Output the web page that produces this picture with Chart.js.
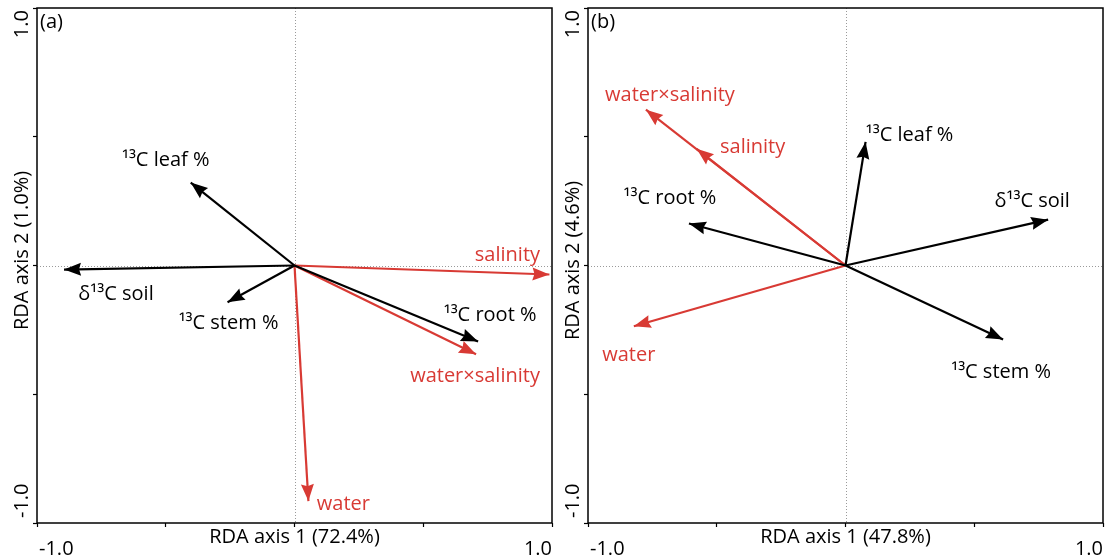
<!DOCTYPE html>
<html>
<head>
<meta charset="utf-8">
<script src="https://cdn.jsdelivr.net/npm/chart.js@4.4.0/dist/chart.umd.min.js"></script>
<style>
  html, body { margin: 0; padding: 0; background: #fff; }
  #wrap { position: relative; width: 1108px; height: 560px; }
  .panel { position: absolute; top: 0; width: 554px; height: 560px; }
</style>
</head>
<body>
<div id="wrap">
  <div class="panel" style="left:0"><canvas id="chartA" width="554" height="560"></canvas></div>
  <div class="panel" style="left:554px"><canvas id="chartB" width="554" height="560"></canvas></div>
</div>
<script>
// panel (a)
const namesA = ["\u00b9\u00b3C leaf %", "\u03b4\u00b9\u00b3C soil", "\u00b9\u00b3C stem %", "\u00b9\u00b3C root %", "salinity", "water\u00d7salinity", "water"];
const xA = [-0.403, -0.895, -0.26, 0.713, 0.99, 0.705, 0.054];
const yA = [0.322, -0.016, -0.143, -0.295, -0.035, -0.345, -0.915];
const isEnvA = [false, false, false, false, true, true, true];

// panel (b)
const namesB = ["\u00b9\u00b3C leaf %", "\u03b4\u00b9\u00b3C soil", "\u00b9\u00b3C stem %", "\u00b9\u00b3C root %", "salinity", "water\u00d7salinity", "water"];
const xB = [0.078, 0.787, 0.612, -0.608, -0.578, -0.775, -0.822];
const yB = [0.48, 0.178, -0.287, 0.163, 0.453, 0.605, -0.236];
const isEnvB = [false, false, false, false, true, true, true];

const axisTitles = {
  a: ["RDA axis 1 (72.4%)", "RDA axis 2 (1.0%)"],
  b: ["RDA axis 1 (47.8%)", "RDA axis 2 (4.6%)"]
};
const tickLabels = ["-1.0", "1.0"];

// label offsets from arrow tip, in px (layout only)
const offA = [[-25, -22], [52, 25], [1, 21], [12, -26], [-42, -19], [-1, 22], [35, 3]];
const offB = [[44, -7], [-16, -18], [-2, 33], [-19, -25], [56, -2], [24, -14], [-5, 29]];

const FONT = "'Open Sans', Lato, sans-serif";
const FSIZE = 20;
const RED = "#d83a34";
const BLACK = "#000";

const biplot = {
  id: "biplot",
  beforeDatasetsDraw(chart) {
    const { ctx, chartArea: a, scales: { x, y } } = chart;
    ctx.save();
    ctx.strokeStyle = "#9a9a9a";
    ctx.lineWidth = 1;
    ctx.setLineDash([1, 2]);
    const x0 = Math.round(x.getPixelForValue(0)) + 0.5;
    const y0 = Math.round(y.getPixelForValue(0)) + 0.5;
    ctx.beginPath();
    ctx.moveTo(x0, a.top); ctx.lineTo(x0, a.bottom);
    ctx.moveTo(a.left, y0); ctx.lineTo(a.right, y0);
    ctx.stroke();
    ctx.restore();
  },
  afterDatasetsDraw(chart) {
    const { ctx } = chart;
    const o = chart.options.plugins.biplot;
    ctx.save();
    chart.data.datasets.forEach((ds, i) => {
      const pts = chart.getDatasetMeta(i).data;
      const p0 = pts[0], p1 = pts[1];
      const ang = Math.atan2(p1.y - p0.y, p1.x - p0.x);
      const L = 17, W = 6.5;
      const c = Math.cos(ang), s = Math.sin(ang);
      const bx = p1.x - L * c, by = p1.y - L * s;
      ctx.fillStyle = ds.borderColor;
      ctx.beginPath();
      ctx.moveTo(p1.x, p1.y);
      ctx.lineTo(bx + W * s, by - W * c);
      ctx.lineTo(bx + 2 * c, by + 2 * s);
      ctx.lineTo(bx - W * s, by + W * c);
      ctx.closePath();
      ctx.fill();
      // label
      const off = o.offsets[i];
      ctx.font = FSIZE + "px " + FONT;
      ctx.textAlign = "center";
      ctx.textBaseline = "middle";
      ctx.fillText(ds.label, p1.x + off[0], p1.y + off[1]);
    });
    ctx.restore();
  },
  afterDraw(chart) {
    const { ctx, chartArea: a } = chart;
    const o = chart.options.plugins.biplot;
    ctx.save();
    ctx.strokeStyle = "#000";
    ctx.lineWidth = 1.5;
    ctx.strokeRect(a.left, a.top, a.right - a.left, a.bottom - a.top);
    ctx.fillStyle = "#000";
    ctx.font = FSIZE + "px " + FONT;
    ctx.textBaseline = "middle";
    // x title & ticks
    ctx.textAlign = "center";
    ctx.fillText(o.titles[0], (a.left + a.right) / 2, a.bottom + 14);
    ctx.textAlign = "left";
    ctx.fillText(tickLabels[0], a.left + 2, a.bottom + 26);
    ctx.textAlign = "right";
    ctx.fillText(tickLabels[1], a.right, a.bottom + 26);
    // panel tag
    ctx.textAlign = "left";
    ctx.fillText(o.tag, a.left + 3, a.top + 14);
    // y title & ticks (rotated)
    ctx.save();
    ctx.translate(a.left - 15, (a.top + a.bottom) / 2 + o.yTitleShift);
    ctx.rotate(-Math.PI / 2);
    ctx.textAlign = "center";
    ctx.fillText(o.titles[1], 0, 0);
    ctx.restore();
    ctx.save();
    ctx.translate(a.left - 15, a.top + 2);
    ctx.rotate(-Math.PI / 2);
    ctx.textAlign = "right";
    ctx.fillText(tickLabels[1], 0, 0);
    ctx.restore();
    ctx.save();
    ctx.translate(a.left - 15, a.bottom - 5);
    ctx.rotate(-Math.PI / 2);
    ctx.textAlign = "left";
    ctx.fillText(tickLabels[0], 0, 0);
    ctx.restore();
    ctx.restore();
  }
};

function buildDatasets(names, xs, ys, env) {
  const black = [], red = [];
  names.forEach((n, i) => {
    const ds = {
      label: n,
      data: [{ x: 0, y: 0 }, { x: xs[i], y: ys[i] }],
      borderColor: env[i] ? RED : BLACK,
      borderWidth: 2.2,
      pointRadius: 0,
      showLine: true
    };
    (env[i] ? red : black).push(ds);
  });
  return black.concat(red);
}

function orderOffsets(offs, env) {
  const black = [], red = [];
  offs.forEach((o, i) => (env[i] ? red : black).push(o));
  return black.concat(red);
}

function makeChart(id, names, xs, ys, env, offs, cfg) {
  const axis = (size, key) => ({
    type: "linear",
    min: -1, max: 1,
    ticks: { stepSize: 0.5, display: false },
    grid: { drawOnChartArea: false, drawTicks: true, tickLength: 4, tickColor: "#000", tickWidth: 1.2 },
    border: { display: false },
    afterFit: (s) => { s[key] = size; }
  });
  return new Chart(document.getElementById(id), {
    type: "scatter",
    data: { datasets: buildDatasets(names, xs, ys, env) },
    options: {
      responsive: false,
      animation: false,
      layout: { padding: { left: 0, right: cfg.padRight, top: 8, bottom: 0 } },
      plugins: {
        legend: { display: false },
        tooltip: { enabled: false },
        biplot: { offsets: orderOffsets(offs, env), titles: cfg.titles, tag: cfg.tag, yTitleShift: cfg.yTitleShift }
      },
      scales: {
        x: axis(37, "height"),
        y: axis(cfg.yWidth, "width")
      }
    },
    plugins: [biplot]
  });
}

makeChart("chartA", namesA, xA, yA, isEnvA, offA, { padRight: 2, yWidth: 37, titles: axisTitles.a, tag: "(a)", yTitleShift: -15 });
makeChart("chartB", namesB, xB, yB, isEnvB, offB, { padRight: 5, yWidth: 34, titles: axisTitles.b, tag: "(b)", yTitleShift: -5 });
</script>
</body>
</html>
